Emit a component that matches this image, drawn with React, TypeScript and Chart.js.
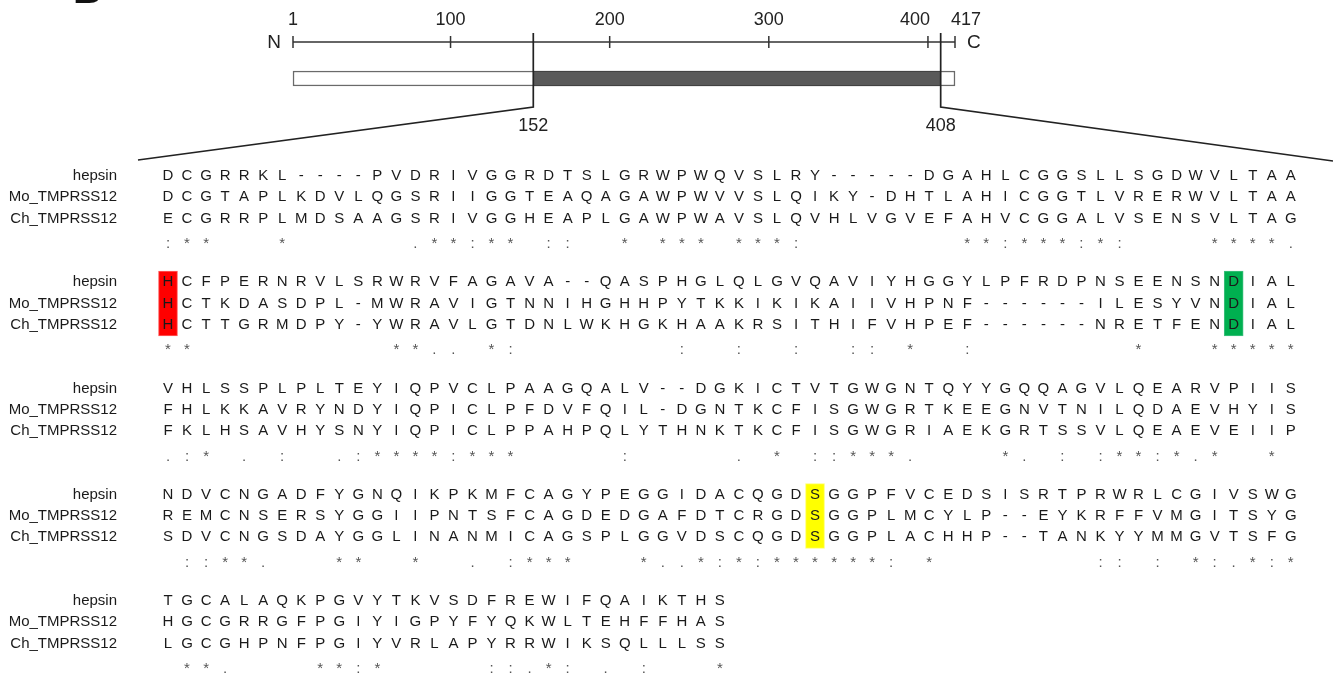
import React, { useEffect, useRef } from 'react';
import { Chart, registerables } from 'chart.js';

Chart.register(...registerables);

// ---------------- data ----------------
const PANEL_LETTER = 'B';
const PROTEIN_LENGTH = 417;
const RULER_TICKS = [1, 100, 200, 300, 400, 417];
const DOMAIN = [152, 408];
const N_TERM = 'N';
const C_TERM = 'C';
const SEQ_NAMES = ['hepsin', 'Mo_TMPRSS12', 'Ch_TMPRSS12'];

const HEPSIN = [
  'DCGRRKL----PVDRIVGGRDTSLGRWPWQVSLRY-----DGAHLCGGSLLSGDWVLTAA',
  'HCFPERNRVLSRWRVFAGAVA--QASPHGLQLGVQAVIYHGGYLPFRDPNSEENSNDIAL',
  'VHLSSPLPLTEYIQPVCLPAAGQALV--DGKICTVTGWGNTQYYGQQAGVLQEARVPIIS',
  'NDVCNGADFYGNQIKPKMFCAGYPEGGIDACQGDSGGPFVCEDSISRTPRWRLCGIVSWG',
  'TGCALAQKPGVYTKVSDFREWIFQAIKTHS',
];
const MO_TMPRSS12 = [
  'DCGTAPLKDVLQGSRIIGGTEAQAGAWPWVVSLQIKY-DHTLAHICGGTLVRERWVLTAA',
  'HCTKDASDPL-MWRAVIGTNNIHGHHPYTKKIKIKAIIVHPNF------ILESYVNDIAL',
  'FHLKKAVRYNDYIQPICLPFDVFQIL-DGNTKCFISGWGRTKEEGNVTNILQDAEVHYIS',
  'REMCNSERSYGGIIPNTSFCAGDEDGAFDTCRGDSGGPLMCYLP--EYKRFFVMGITSYG',
  'HGCGRRGFPGIYIGPYFYQKWLTEHFFHAS',
];
const CH_TMPRSS12 = [
  'ECGRRPLMDSAAGSRIVGGHEAPLGAWPWAVSLQVHLVGVEFAHVCGGALVSENSVLTAG',
  'HCTTGRMDPY-YWRAVLGTDNLWKHGKHAAKRSITHIFVHPEF------NRETFENDIAL',
  'FKLHSAVHYSNYIQPICLPPAHPQLYTHNKTKCFISGWGRIAEKGRTSSVLQEAEVEIIP',
  'SDVCNGSDAYGGLINANMICAGSPLGGVDSCQGDSGGPLACHHP--TANKYYMMGVTSFG',
  'LGCGHPNFPGIYVRLAPYRRWIKSQLLLSS',
];
const CONSERVATION = [
  ':**   *      .**:** ::  * *** ***:        **:***:*:    ****.',
  '**          **.. *:        :  :  :  :: *  :        *   *****',
  '.:* . :  .:****:***     :     . * ::***.    *. : :**:*.*  * ',
  ' ::**.   **  *  . :***   *..*:*:******: *        :: : *:.*:*',
  ' **.    **:*     ::.*: . :   *',
];
// catalytic triad residues (block index 0-based, column 1-based)
const CATALYTIC = [
  { block: 1, col: 1, residue: 'H' },
  { block: 1, col: 57, residue: 'D' },
  { block: 3, col: 35, residue: 'S' },
];

// ---------------- style / layout ----------------
const TRIAD_FILL: Record<string, string> = { H: '#ff0000', D: '#00b050', S: '#ffff00' };
const TRIAD_EDGE: Record<string, string> = { H: '#ff6060', D: '#40c080', S: '#ffff70' };
const FONT = '"Liberation Sans", Arial, sans-serif';
const W = 1333;
const H = 688;
const RULER_LEFT_PX = 293;
const RULER_RIGHT_PX = 955;
const RULER_Y = 42;
const RULER_LABEL_Y = 20;
const TICK_HALF = 6;
const BAR_Y = 78.5;
const BAR_THICK = 15;
const DOMAIN_LINE_TOP = 33;
const DOMAIN_LINE_BOTTOM = 107;
const ZOOM_LEFT_PX = 138;
const ZOOM_RIGHT_PX = 1333;
const ZOOM_Y = 160;
const DOMAIN_LABEL_Y = 126;
const COL1_PX = 168;
const COL_STEP = 19.03;
const ROW1_PX = 176;
const ROW_STEP = 21.25;
const BLOCK_ROWS = 5;
const LABEL_GAP = 51;
const CONS_SHIFT = 0.2;

const xrSpan = ((PROTEIN_LENGTH - 1) * W) / (RULER_RIGHT_PX - RULER_LEFT_PX);
const xrMin = 1 - (RULER_LEFT_PX * xrSpan) / W;
const xrMax = xrMin + xrSpan;
const xrFromPx = (px: number) => xrMin + (px / W) * xrSpan;
const xaMin = 1 - COL1_PX / COL_STEP;
const xaMax = xaMin + W / COL_STEP;
const yaMin = -ROW1_PX / ROW_STEP;
const yaMax = yaMin + H / ROW_STEP;

const textPlugin = {
  id: 'alignmentText',
  afterDatasetsDraw(chart: any) {
    const { ctx } = chart;
    const { xr, yr, xa, ya } = chart.scales;
    ctx.save();

    // panel letter (cut by top edge)
    ctx.textBaseline = 'alphabetic';
    ctx.textAlign = 'left';
    ctx.fillStyle = '#111';
    ctx.font = `bold 40px ${FONT}`;
    ctx.fillText(PANEL_LETTER, 73, 3);

    // ruler labels
    ctx.textBaseline = 'middle';
    ctx.fillStyle = '#222';
    ctx.font = `18px ${FONT}`;
    const ly = yr.getPixelForValue(RULER_LABEL_Y);
    RULER_TICKS.forEach((t, i) => {
      const x = xr.getPixelForValue(t);
      const next = RULER_TICKS[i + 1];
      const prev = RULER_TICKS[i - 1];
      const crowdNext = next !== undefined && xr.getPixelForValue(next) - x < 40;
      const crowdPrev = prev !== undefined && x - xr.getPixelForValue(prev) < 40;
      if (crowdNext) {
        ctx.textAlign = 'right';
        ctx.fillText(String(t), x + 2, ly);
      } else if (crowdPrev) {
        ctx.textAlign = 'left';
        ctx.fillText(String(t), x - 4, ly);
      } else {
        ctx.textAlign = 'center';
        ctx.fillText(String(t), x, ly);
      }
    });

    const ry = yr.getPixelForValue(RULER_Y);
    ctx.font = `19px ${FONT}`;
    ctx.textAlign = 'right';
    ctx.fillText(N_TERM, xr.getPixelForValue(1) - 12, ry + 1);
    ctx.textAlign = 'left';
    ctx.fillText(C_TERM, xr.getPixelForValue(PROTEIN_LENGTH) + 12, ry + 1);

    ctx.font = `18px ${FONT}`;
    ctx.textAlign = 'center';
    DOMAIN.forEach((d) => ctx.fillText(String(d), xr.getPixelForValue(d), yr.getPixelForValue(DOMAIN_LABEL_Y)));

    // alignment
    const seqs = [HEPSIN, MO_TMPRSS12, CH_TMPRSS12];
    ctx.font = `15px ${FONT}`;
    for (let b = 0; b < CONSERVATION.length; b++) {
      const base = b * BLOCK_ROWS;
      seqs.forEach((blocks, s) => {
        const y = ya.getPixelForValue(base + s);
        ctx.fillStyle = '#1a1a1a';
        ctx.textAlign = 'right';
        ctx.fillText(SEQ_NAMES[s], xa.getPixelForValue(1) - LABEL_GAP, y);
        ctx.textAlign = 'center';
        const str = blocks[b];
        for (let i = 0; i < str.length; i++) ctx.fillText(str[i], xa.getPixelForValue(i + 1), y);
      });
      const cy = ya.getPixelForValue(base + 3 + CONS_SHIFT);
      ctx.fillStyle = '#555';
      ctx.textAlign = 'center';
      const cs = CONSERVATION[b];
      for (let i = 0; i < cs.length; i++) {
        if (cs[i] !== ' ') ctx.fillText(cs[i], xa.getPixelForValue(i + 1), cy);
      }
    }
    ctx.restore();
  },
};

export default function App() {
  const ref = useRef<HTMLCanvasElement>(null);
  useEffect(() => {
    document.body.style.margin = '0';
    const lineBase = { type: 'line' as const, xAxisID: 'xr', yAxisID: 'yr', pointRadius: 0, fill: false, tension: 0 };
    const hiddenLinear = { type: 'linear', display: false, offset: false, bounds: 'data', grid: { offset: false } };
    const chart = new Chart(ref.current as HTMLCanvasElement, {
      type: 'line',
      data: {
        datasets: [
          {
            type: 'bar',
            indexAxis: 'y',
            xAxisID: 'xr',
            yAxisID: 'yr',
            data: [{ x: [1, PROTEIN_LENGTH], y: BAR_Y }],
            backgroundColor: '#ffffff',
            borderColor: '#6a6a6a',
            borderWidth: 1.5,
            borderSkipped: false,
            barThickness: BAR_THICK,
            grouped: false,
            order: 9,
          } as any,
          {
            type: 'bar',
            indexAxis: 'y',
            xAxisID: 'xr',
            yAxisID: 'yr',
            data: [{ x: DOMAIN, y: BAR_Y }],
            backgroundColor: '#595959',
            borderColor: '#3a3a3a',
            borderWidth: 1,
            borderSkipped: false,
            barThickness: BAR_THICK,
            grouped: false,
            order: 8,
          } as any,
          {
            type: 'bar',
            xAxisID: 'xa',
            yAxisID: 'ya',
            data: CATALYTIC.map((c) => ({ x: c.col, y: [c.block * BLOCK_ROWS - 0.52, c.block * BLOCK_ROWS + 2.52] })),
            backgroundColor: CATALYTIC.map((c) => TRIAD_FILL[c.residue]),
            borderColor: CATALYTIC.map((c) => TRIAD_EDGE[c.residue]),
            borderWidth: 1,
            borderSkipped: false,
            barThickness: 19,
            grouped: false,
            order: 7,
          } as any,
          {
            ...lineBase,
            data: [{ x: 1, y: RULER_Y }, { x: PROTEIN_LENGTH, y: RULER_Y }],
            borderColor: '#333',
            borderWidth: 1.5,
            order: 4,
          } as any,
          {
            ...lineBase,
            data: RULER_TICKS.map((t) => ({ x: t, y: RULER_Y })),
            showLine: false,
            pointStyle: 'line',
            pointRotation: 90,
            pointRadius: TICK_HALF,
            pointBorderWidth: 1.5,
            pointBorderColor: '#333',
            order: 3,
          } as any,
          {
            ...lineBase,
            data: [
              { x: DOMAIN[0], y: DOMAIN_LINE_TOP },
              { x: DOMAIN[0], y: DOMAIN_LINE_BOTTOM },
              { x: xrFromPx(ZOOM_LEFT_PX), y: ZOOM_Y },
            ],
            borderColor: '#222',
            borderWidth: 1.7,
            order: 2,
          } as any,
          {
            ...lineBase,
            data: [
              { x: DOMAIN[1], y: DOMAIN_LINE_TOP },
              { x: DOMAIN[1], y: DOMAIN_LINE_BOTTOM },
              { x: xrFromPx(ZOOM_RIGHT_PX), y: ZOOM_Y + 1 },
            ],
            borderColor: '#222',
            borderWidth: 1.7,
            order: 2,
          } as any,
        ],
      },
      options: {
        responsive: false,
        maintainAspectRatio: false,
        devicePixelRatio: 1,
        animation: false,
        events: [],
        layout: { padding: 0, autoPadding: false } as any,
        plugins: { legend: { display: false }, tooltip: { enabled: false } },
        scales: {
          xr: { ...hiddenLinear, axis: 'x', min: xrMin, max: xrMax } as any,
          yr: { ...hiddenLinear, axis: 'y', min: 0, max: H, reverse: true } as any,
          xa: { ...hiddenLinear, axis: 'x', min: xaMin, max: xaMax } as any,
          ya: { ...hiddenLinear, axis: 'y', min: yaMin, max: yaMax, reverse: true } as any,
        },
      },
      plugins: [textPlugin],
    });
    return () => chart.destroy();
  }, []);

  return (
    <div style={{ position: 'fixed', left: 0, top: 0, width: W, height: H, background: '#ffffff' }}>
      <canvas ref={ref} width={W} height={H} style={{ display: 'block', width: W, height: H }} />
    </div>
  );
}
